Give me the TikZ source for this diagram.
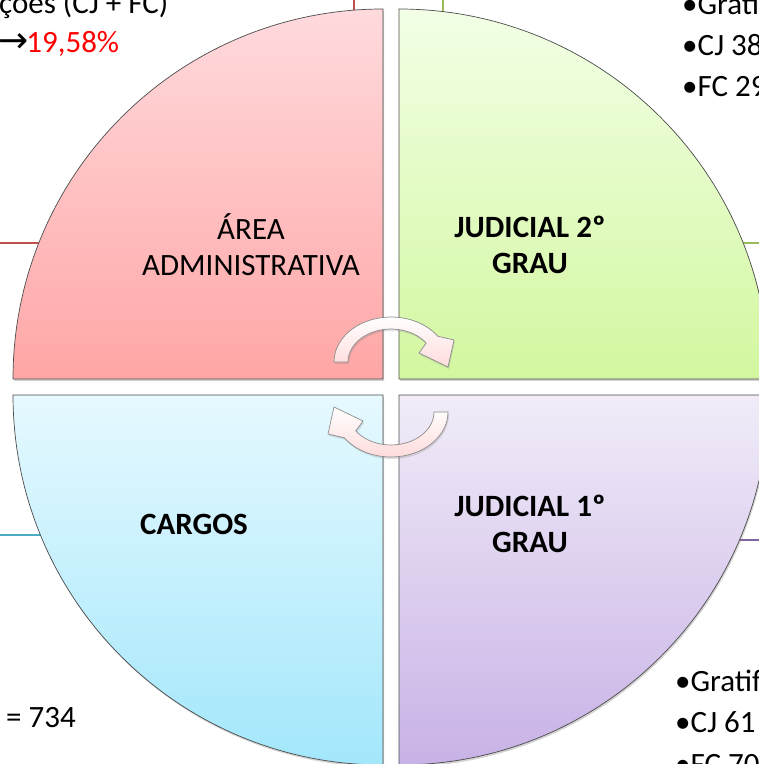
\documentclass[tikz,border=0pt]{standalone}
\usepackage{fontspec}
\setmainfont{Carlito}
\newfontfamily\symbfont{DejaVu Sans}
\usetikzlibrary{shadows}

\definecolor{admtop}{HTML}{FFDADD}
\definecolor{admbot}{HTML}{FFA6A6}
\definecolor{jtwotop}{HTML}{F2FFE6}
\definecolor{jtwobot}{HTML}{D3F7A0}
\definecolor{cartop}{HTML}{E6F9FF}
\definecolor{carbot}{HTML}{A3E7FB}
\definecolor{jonetop}{HTML}{F1ECF8}
\definecolor{jonebot}{HTML}{C8B2E6}
\definecolor{redln}{HTML}{C0504D}
\definecolor{greenln}{HTML}{9BBB59}
\definecolor{blueln}{HTML}{4BACC6}
\definecolor{purpleln}{HTML}{8064A2}

\tikzset{
  quad/.style={draw=black!70,line width=0.7pt,
    drop shadow={opacity=0.35,shadow xshift=1pt,shadow yshift=-2pt}},
  cyc/.style={draw=black!45,line width=0.7pt,top color=white,bottom color=red!14,
    drop shadow={opacity=0.25,shadow xshift=1pt,shadow yshift=-2pt}},
  lbl/.style={font=\fontsize{31}{36}\selectfont,align=center,inner sep=0pt},
  side/.style={font=\fontsize{31}{41}\selectfont,anchor=base west,inner sep=0pt},
  conn/.style={line width=1.3pt}
}

\begin{document}
\begin{tikzpicture}[x=1pt,y=1pt]
\useasboundingbox (0,0) rectangle (759,764);
\clip (0,0) rectangle (759,764);

% lines to the texts
\coordinate (redW) at (0,521);
\coordinate (redE) at (45,521);
\coordinate (redN) at (354,764);
\coordinate (redS) at (354,745);
\coordinate (grnN) at (443,764);
\coordinate (grnS) at (443,745);
\coordinate (grnW) at (735,521);
\coordinate (grnE) at (759,521);
\coordinate (bluW) at (0,229);
\coordinate (bluE) at (48,229);
\coordinate (purW) at (730,224);
\coordinate (purE) at (759,224);
\draw[conn,redln] (redW) -- (redE);
\draw[conn,redln] (redN) -- (redS);
\draw[conn,greenln] (grnN) -- (grnS);
\draw[conn,greenln] (grnW) -- (grnE);
\draw[conn,blueln] (bluW) -- (bluE);
\draw[conn,purpleln] (purW) -- (purE);

% quadrants
\path[quad,top color=admtop,bottom color=admbot]
  (383,385) -- (13,385) arc[start angle=180,end angle=90,radius=370] -- cycle;
\path[quad,top color=jtwotop,bottom color=jtwobot]
  (399,385) -- (399,755) arc[start angle=90,end angle=0,radius=370] -- cycle;
\path[quad,top color=cartop,bottom color=carbot]
  (383,369) -- (383,-1) arc[start angle=-90,end angle=-180,radius=370] -- cycle;
\path[quad,top color=jonetop,bottom color=jonebot]
  (399,369) -- (769,369) arc[start angle=0,end angle=-90,radius=370] -- cycle;

% cycle arrows
\foreach \r in {0,180}{
  \begin{scope}[rotate around={\r:(391,377)}]
    \path[cyc] (334,402) arc[start angle=180,end angle=35,x radius=57,y radius=45]
      -- (454,424) -- (448,397) -- (419,411)
      -- (426.2,420.9) arc[start angle=35,end angle=180,x radius=43,y radius=33] -- cycle;
  \end{scope}
}

% labels
\node[lbl] (adm) at (251,519) {ÁREA\\ADMINISTRATIVA};
\node[lbl,font=\fontsize{31}{36}\selectfont\bfseries] (jud2) at (530,519) {JUDICIAL 2º\\GRAU};
\node[lbl,font=\fontsize{31}{36}\selectfont\bfseries] (cargos) at (194,240) {CARGOS};
\node[lbl,font=\fontsize{31}{36}\selectfont\bfseries] (jud1) at (530,240) {JUDICIAL 1º\\GRAU};

% texts beside
\node[side] (gratadm) at (-1,750) {ções (CJ + FC)};
\node[side] (pctadm) at (-2,711) {{\symbfont\fontsize{36}{40}\selectfont →}\kern-2pt\textcolor{red}{19,58\%}};
\foreach \t [count=\i] in {•Grati,•CJ 38,•FC 29}
  \node[side] (jtwo\i) at (682,790-41*\i) {\t};
\foreach \t [count=\i] in {•Gratif,•CJ 61,•FC 70}
  \node[side] (jone\i) at (675,113-41*\i) {\t};
\node[side] (totcar) at (6,36) {= 734};
\end{tikzpicture}
\end{document}
